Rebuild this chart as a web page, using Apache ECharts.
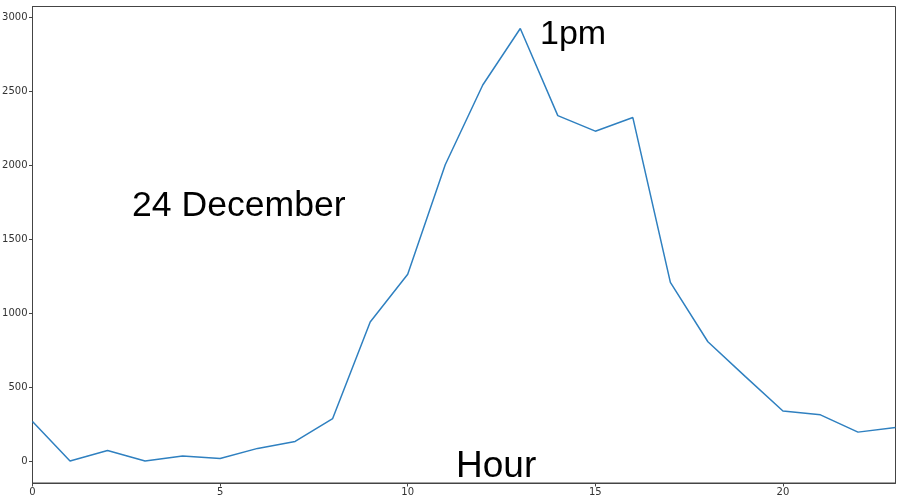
<!DOCTYPE html>
<html>
<head>
<meta charset="utf-8">
<script src="https://cdn.jsdelivr.net/npm/echarts@6/dist/echarts.min.js"></script>
<style>html,body{margin:0;padding:0;background:#fff}#c{width:900px;height:501px}</style>
</head>
<body>
<div id="c"></div>
<script>
const hours = [0,1,2,3,4,5,6,7,8,9,10,11,12,13,14,15,16,17,18,19,20,21,22,23];
const counts = [270,3,74,3,36,20,88,135,290,943,1265,2006,2545,2927,2338,2233,2325,1211,809,573,341,315,198,229];
const xTicks = [0,5,10,15,20];
const yTicks = [0,500,1000,1500,2000,2500,3000];
const annotations = [
  {text:'1pm', left:540, top:18, size:34},
  {text:'24 December', left:132, top:188, size:35.6},
  {text:'Hour', left:456, top:448, size:37}
];

const chart = echarts.init(document.getElementById('c'), null, {renderer:'canvas'});
const tickFont = {fontFamily:'DejaVu Sans', fontSize:10, color:'#333', formatter:v=>String(v)};
chart.setOption({
  animation:false,
  backgroundColor:'#fff',
  grid:{left:32.5, right:4.5, top:6.5, bottom:18, show:true, borderColor:'#444', borderWidth:1, containLabel:false, outerBoundsMode:'none'},
  xAxis:{
    type:'value', min:0, max:23,
    axisLine:{show:true, onZero:false, lineStyle:{color:'#444'}},
    axisTick:{show:true, length:3.5, customValues:xTicks, lineStyle:{color:'#444'}},
    axisLabel:Object.assign({customValues:xTicks, margin:4}, tickFont),
    splitLine:{show:false}
  },
  yAxis:{
    type:'value', min:-146, max:3076,
    axisLine:{show:true, onZero:false, lineStyle:{color:'#444'}},
    axisTick:{show:true, length:3.5, customValues:yTicks, lineStyle:{color:'#444'}},
    axisLabel:Object.assign({customValues:yTicks, margin:5}, tickFont),
    splitLine:{show:false}
  },
  series:[{
    type:'line',
    data:hours.map((h,i)=>[h,counts[i]]),
    showSymbol:false,
    lineStyle:{color:'#2f80c0', width:1.5},
    clip:true
  }],
  graphic:annotations.map(a=>({
    type:'text', left:a.left, top:a.top,
    style:{text:a.text, font:a.size+'px "Liberation Sans", Arial, sans-serif', fill:'#000'}
  }))
});
</script>
</body>
</html>
